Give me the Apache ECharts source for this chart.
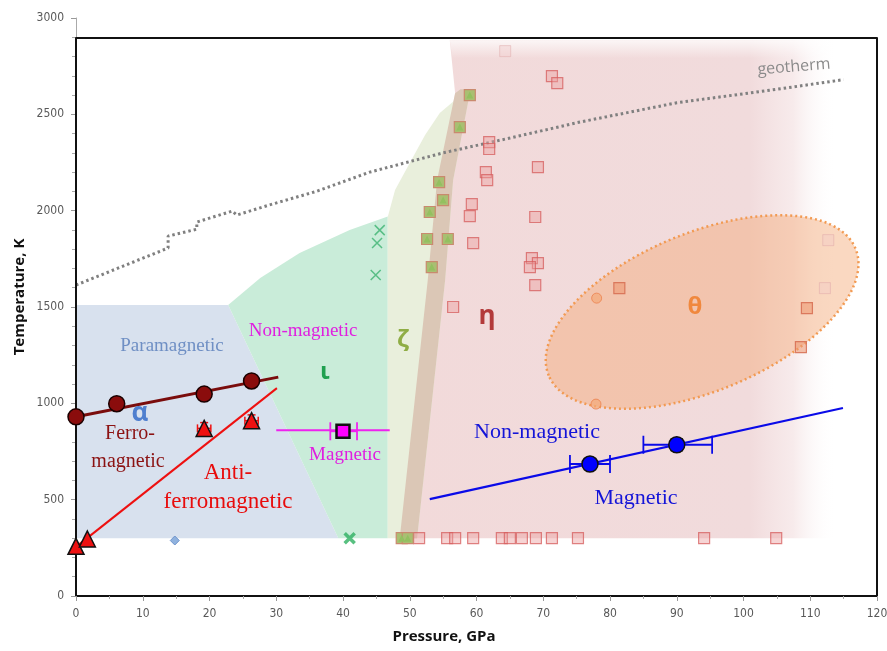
<!DOCTYPE html>
<html>
<head>
<meta charset="utf-8">
<script src="https://cdn.jsdelivr.net/npm/echarts@6/dist/echarts.min.js"></script>
<style>
  html, body { margin: 0; padding: 0; background: #fff; }
  #main { width: 887px; height: 651px; }
</style>
</head>
<body>
<div id="main"></div>
<script>
// axes
var pressureMin = 0, pressureMax = 120, pressureStep = 10;
var tempMin = 0, tempMax = 3000, tempStep = 500;
var frameTop = 2900;

// phase regions [P (GPa), T (K)]
var alphaRegion = [[0, 300], [0, 1510], [22.8, 1510], [39.3, 300]];
var iotaRegion = [[22.8, 1510], [27.6, 1650], [33.5, 1780], [41, 1900], [46.7, 1970], [46.7, 300], [39.3, 300]];
var zetaRegion = [[46.7, 300], [46.7, 1967], [47.8, 2107], [50, 2247], [52.3, 2393], [54.5, 2507], [56.8, 2574], [58.6, 2615],
  [59, 2610], [56.5, 2159], [55.3, 1640], [51.1, 300]];
var bandRegion = [[48.5, 300], [52.7, 1640], [54.1, 2159], [56.8, 2610], [57.6, 2630], [58.6, 2630], [59, 2610],
  [56.5, 2159], [55.3, 1640], [51.1, 300]];
var etaRegion = [[56.0, 2885], [114, 2885], [114, 300], [48.5, 300], [52.7, 1640], [54.1, 2159], [56.8, 2610]];
var etaTopFade = [[56.0, 2885], [114, 2885], [114, 2790], [56.4, 2790]];
var thetaCenter = [93.8, 1474];

// geotherm
var geotherm = [[0, 1614], [13.8, 1806], [13.8, 1868], [18.1, 1904], [18.1, 1941], [23.4, 1998], [24.1, 1977],
  [29, 2030], [36, 2100], [44, 2200], [55, 2300], [65, 2377], [75.5, 2460], [90, 2560], [105, 2630], [115, 2680]];

// fitted boundaries
var ferroLine = [[0, 930], [30.3, 1136]];
var antiLine = [[0, 255], [30.1, 1079]];
var iotaMagLine = [[30, 860], [47, 860]];
var etaMagLine = [[53, 503], [114.9, 976]];

// measured points
var ferroPoints = [[0, 930], [6.1, 998], [19.2, 1048], [26.3, 1116]];
var antiPoints = [[0, 258], [1.7, 296], [19.2, 870], [26.3, 910]];
var iotaMagPoint = [[40, 855]];
var etaMagPoints = [[77, 685], [90, 785]];
var alphaDiamond = [[14.8, 288]];
var iotaCross = [[45.5, 1899], [45.1, 1832], [44.9, 1666]];
var iotaCrossBold = [[41, 300]];
var zetaSquares = [[59.0, 2600], [57.5, 2434], [54.4, 2148], [55.0, 2055], [53.0, 1993], [52.6, 1853], [55.7, 1853],
  [53.3, 1707], [48.8, 300], [49.7, 300]];
var etaSquares = [[71.3, 2698], [72.1, 2662], [61.9, 2356], [61.9, 2320], [69.2, 2226], [61.4, 2200], [61.6, 2159],
  [59.3, 2034], [59.0, 1972], [68.8, 1967], [59.5, 1832], [68.3, 1754], [69.2, 1728], [68.0, 1707], [68.8, 1614],
  [56.5, 1500], [51.4, 300], [55.6, 300], [56.8, 300], [59.5, 300], [63.8, 300], [65.0, 300], [66.8, 300],
  [68.9, 300], [71.3, 300], [75.2, 300], [94.1, 300], [104.9, 300]];
var etaFaintSquares = [[64.3, 2828], [112.2, 1598], [112.7, 1847]];
var thetaSquares = [[81.4, 1598], [109.5, 1494], [108.6, 1292]];
var thetaCircles = [[78.0, 1546], [77.9, 996]];

// error bars [P, T, Plow, Phigh, Tlow, Thigh]
var ferroErr = [[6.1, 998, 5.1, 7.1, 970, 1026], [19.2, 1048, 18.2, 20.2, 1020, 1076], [26.3, 1116, 25.3, 27.3, 1088, 1144]];
var antiErr = [[19.2, 870, 18.2, 20.2, 840, 900], [26.3, 910, 25.3, 27.3, 880, 940]];
var iotaMagErr = [[40, 855, 38.1, 42.1, 855, 855]];
var etaMagErr = [[77, 685, 74, 80, 685, 685], [90, 785, 85, 95.3, 785, 785]];
var etaMagErrT = [[90, 785, 90, 90, 755, 815]];

var myChart = echarts.init(document.getElementById("main"));

function regionSeries(pts, fill, z) {
  return {
    type: "custom",
    silent: true,
    z: z,
    data: pts,
    renderItem: function (params, api) {
      if (params.dataIndex > 0) return;
      var points = pts.map(function (p) { return api.coord(p); });
      return { type: "polygon", shape: { points: points }, style: { fill: fill } };
    },
  };
}

function errorSeries(rows, color, width, cap, z) {
  return {
    type: "custom",
    silent: true,
    z: z,
    data: rows,
    renderItem: function (params, api) {
      var c = api.coord([api.value(0), api.value(1)]);
      var xl = api.coord([api.value(2), api.value(1)]);
      var xh = api.coord([api.value(3), api.value(1)]);
      var yl = api.coord([api.value(0), api.value(4)]);
      var yh = api.coord([api.value(0), api.value(5)]);
      var st = { stroke: color, lineWidth: width };
      var kids = [];
      if (xh[0] - xl[0] > 1) {
        kids.push({ type: "line", shape: { x1: xl[0], y1: c[1], x2: xh[0], y2: c[1] }, style: st });
        kids.push({ type: "line", shape: { x1: xl[0], y1: c[1] - cap, x2: xl[0], y2: c[1] + cap }, style: st });
        kids.push({ type: "line", shape: { x1: xh[0], y1: c[1] - cap, x2: xh[0], y2: c[1] + cap }, style: st });
      }
      if (yl[1] - yh[1] > 1) {
        kids.push({ type: "line", shape: { x1: c[0], y1: yl[1], x2: c[0], y2: yh[1] }, style: st });
        kids.push({ type: "line", shape: { x1: c[0] - cap, y1: yl[1], x2: c[0] + cap, y2: yl[1] }, style: st });
        kids.push({ type: "line", shape: { x1: c[0] - cap, y1: yh[1], x2: c[0] + cap, y2: yh[1] }, style: st });
      }
      return { type: "group", children: kids };
    },
  };
}

function lineSeries(pts, color, width, z) {
  return {
    type: "line", data: pts, z: z, silent: true, symbol: "none",
    lineStyle: { color: color, width: width },
  };
}

function scatterSeries(pts, symbol, size, fill, border, bw, z) {
  return {
    type: "scatter", data: pts, z: z, silent: true, symbol: symbol, symbolSize: size,
    itemStyle: { color: fill, borderColor: border, borderWidth: bw, opacity: 1 },
  };
}

var serif = "'Liberation Serif', 'DejaVu Serif', serif";
var sans = "'Open Sans', 'Liberation Sans', sans-serif";
var axisFont = "'Liberation Sans Narrow', 'DejaVu Sans Condensed', 'Liberation Sans', sans-serif";

function label(text, x, y, color, font, rot) {
  return {
    type: "text", x: x, y: y, z: 100, rotation: rot || 0,
    style: { text: text, fill: color, font: font, align: "center", verticalAlign: "middle",
      textAlign: "center", textVerticalAlign: "middle" },
  };
}

var crossPath = "path://M0,0L10,10M10,0L0,10";

var option = {
  animation: false,
  backgroundColor: "#fff",
  grid: { left: 76, right: 10, top: 18, bottom: 55, outerBoundsMode: "none" },
  xAxis: {
    type: "value", min: pressureMin, max: pressureMax, interval: pressureStep,
    axisLine: { show: true, lineStyle: { color: "#111", width: 2 } },
    axisTick: { show: true, length: 5, lineStyle: { color: "#999" } },
    minorTick: { show: true, splitNumber: 2, length: 3, lineStyle: { color: "#aaa" } },
    splitLine: { show: false },
    axisLabel: { color: "#595959", fontSize: 12, fontFamily: axisFont, margin: 12,
      formatter: function (v) { return String(v); } },
  },
  yAxis: {
    type: "value", min: tempMin, max: tempMax, interval: tempStep,
    axisLine: { show: true, lineStyle: { color: "#aaa", width: 1 } },
    axisTick: { show: true, length: 5, lineStyle: { color: "#999" } },
    minorTick: { show: true, splitNumber: 5, length: 4, lineStyle: { color: "#aaa" } },
    splitLine: { show: false },
    axisLabel: { color: "#595959", fontSize: 12, fontFamily: axisFont, margin: 12,
      formatter: function (v) { return String(v); } },
  },
  graphic: [
    label("Temperature, K", 20, 297, "#111", "bold 15px " + sans, Math.PI / 2),
    label("Pressure, GPa", 444, 637, "#111", "bold 15px " + sans),
    label("geotherm", 794, 67, "#8a8a8a", "16px " + sans, 0.08),
    label("Paramagnetic", 172, 346, "#6f8fc4", "19px " + serif),
    label("\u03b1", 140, 414, "#4f7fcf", "bold 26px " + sans),
    label("Ferro-", 130, 434, "#8b1212", "20px " + serif),
    label("magnetic", 128, 462, "#8b1212", "20px " + serif),
    label("Anti-", 228, 473, "#e80c0c", "23px " + serif),
    label("ferromagnetic", 228, 502, "#e80c0c", "23px " + serif),
    label("Non-magnetic", 303, 331, "#e01ee0", "19px " + serif),
    label("\u03b9", 325, 372, "#20a050", "bold 24px " + sans),
    label("Magnetic", 345, 455, "#e01ee0", "19px " + serif),
    label("\u03b6", 403, 340, "#8fad45", "bold 24px " + sans),
    label("\u03b7", 487, 317, "#b33a3a", "bold 26px " + sans),
    label("\u03b8", 695, 307, "#f0883e", "bold 24px " + sans),
    label("Non-magnetic", 537, 432, "#1414d8", "22px " + serif),
    label("Magnetic", 636, 498, "#1414d8", "22px " + serif),
  ],
  series: [
    regionSeries(etaRegion, new echarts.graphic.LinearGradient(0, 0, 1, 0, [
      { offset: 0, color: "rgba(242,218,218,1)" },
      { offset: 0.8, color: "rgba(241,219,220,1)" },
      { offset: 0.9, color: "rgba(244,226,227,0.7)" },
      { offset: 1, color: "rgba(255,255,255,0)" },
    ]), 1),
    regionSeries(etaTopFade, new echarts.graphic.LinearGradient(0, 0, 0, 1, [
      { offset: 0, color: "rgba(255,255,255,0.75)" },
      { offset: 1, color: "rgba(255,255,255,0)" },
    ]), 1),
    regionSeries(alphaRegion, "#d8e1ee", 1),
    regionSeries(iotaRegion, "#c9ecd9", 1),
    regionSeries(zetaRegion, "#e9efdc", 1),
    regionSeries(bandRegion, "#dbc7b6", 1),
    {
      type: "custom", silent: true, z: 2, data: [thetaCenter],
      renderItem: function (params, api) {
        var c = api.coord(thetaCenter);
        return {
          type: "ellipse", x: c[0], y: c[1], rotation: 22.5 * Math.PI / 180,
          shape: { cx: 0, cy: 0, rx: 166, ry: 79 },
          style: { fill: "rgba(244,168,118,0.45)", stroke: "#f29a52", lineWidth: 2.5, lineDash: [2, 3] },
        };
      },
    },
    {
      type: "line", data: geotherm, z: 3, silent: true, symbol: "none",
      lineStyle: { color: "#808080", width: 3, type: [2.5, 3] },
      markLine: {
        silent: true, symbol: "none", label: { show: false },
        lineStyle: { color: "#111", width: 2, type: "solid" },
        data: [
          [{ coord: [pressureMin, tempMin] }, { coord: [pressureMin, frameTop] }],
          [{ coord: [pressureMin, frameTop] }, { coord: [pressureMax, frameTop] }],
          [{ coord: [pressureMax, frameTop] }, { coord: [pressureMax, tempMin] }],
        ],
      },
    },
    scatterSeries(etaSquares, "rect", 11, "rgba(234,160,160,0.45)", "rgba(214,92,92,0.75)", 1.2, 4),
    scatterSeries(etaFaintSquares, "rect", 11, "rgba(240,200,200,0.35)", "rgba(225,170,170,0.5)", 1, 4),
    scatterSeries(zetaSquares, "rect", 11, "#a9bf72", "#c98a6e", 1.2, 4),
    scatterSeries(zetaSquares, "triangle", 7, "#93c060", "#93c060", 0, 4),
    scatterSeries(thetaSquares, "rect", 11, "rgba(236,150,110,0.55)", "rgba(214,108,80,0.85)", 1.2, 4),
    scatterSeries(thetaCircles, "circle", 10, "rgba(244,170,120,0.7)", "rgba(236,130,80,0.8)", 1, 4),
    {
      type: "scatter", data: iotaCross, z: 4, silent: true, symbol: crossPath, symbolSize: 10,
      itemStyle: { color: "none", borderColor: "#3cb371", borderWidth: 1.5 },
    },
    {
      type: "scatter", data: iotaCrossBold, z: 4, silent: true, symbol: crossPath, symbolSize: 10,
      itemStyle: { color: "none", borderColor: "#2eb060", borderWidth: 3.5 },
    },
    scatterSeries(alphaDiamond, "diamond", 9, "#90b2de", "#6f94cc", 1, 4),
    lineSeries(ferroLine, "#7a0c0c", 3, 5),
    lineSeries(antiLine, "#ee1010", 2, 5),
    lineSeries(iotaMagLine, "#ee22ee", 2, 5),
    lineSeries(etaMagLine, "#0a0ae8", 2.2, 5),
    errorSeries(ferroErr, "#222", 1.5, 4, 6),
    errorSeries(antiErr, "#ee1010", 1.5, 4, 6),
    errorSeries(iotaMagErr, "#ee22ee", 1.8, 9, 6),
    errorSeries(etaMagErr, "#0a0ae8", 1.8, 9, 6),
    errorSeries(etaMagErrT, "#111", 1.8, 6, 6),
    scatterSeries(ferroPoints, "circle", 16, "#8a0c0c", "#1a0000", 1.5, 7),
    scatterSeries(antiPoints, "triangle", 16, "#ee1111", "#111", 1.5, 7),
    scatterSeries(iotaMagPoint, "rect", 13, "#ff00ff", "#111", 2.5, 7),
    scatterSeries(etaMagPoints, "circle", 16, "#0000ff", "#111", 1.5, 7),
  ],
};

myChart.setOption(option);
window.addEventListener("resize", function () {
  myChart.resize();
});
</script>
</body>
</html>
